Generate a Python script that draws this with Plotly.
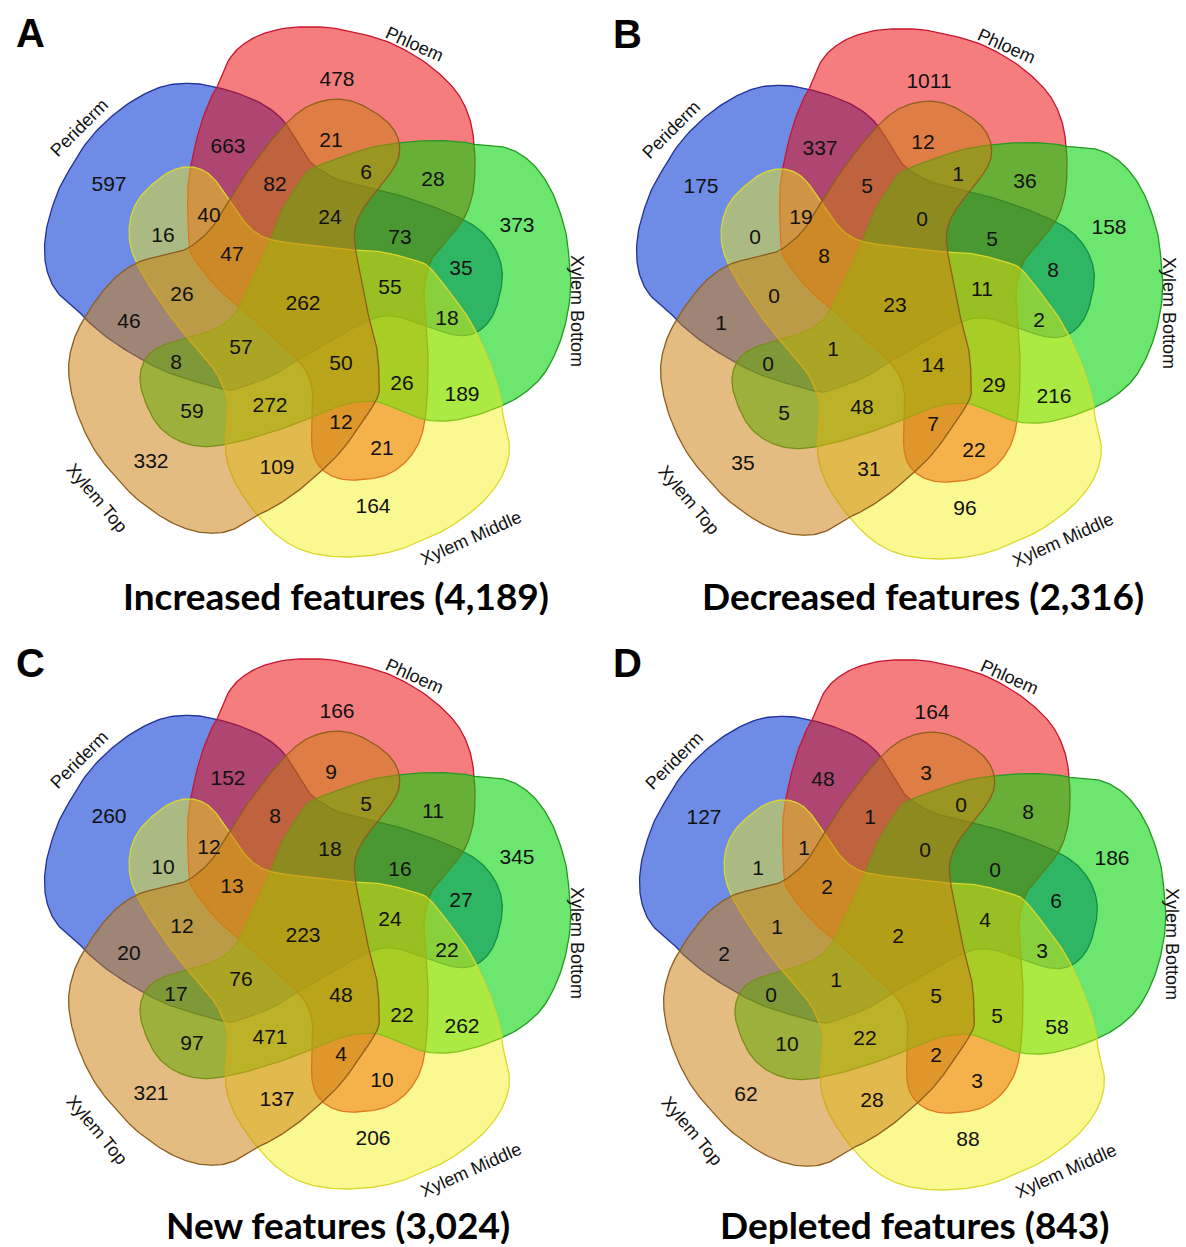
import numpy as np
import plotly.graph_objects as go

# ---------------- data ----------------
SETS = ["Periderm", "Phloem", "Xylem Bottom", "Xylem Middle", "Xylem Top"]
# region membership codes in SETS order
REGIONS = ["10000", "01000", "00100", "00010", "00001",
           "11000", "01001", "01101", "01100", "11001", "11010", "10010",
           "11101", "11100", "11011", "10100", "11110", "10011", "11111",
           "10110", "10001", "10111", "10101", "01111", "01110", "00110",
           "00101", "00111", "01011", "01010", "00011"]
INCREASED = [597, 478, 373, 164, 332, 663, 21, 6, 28, 82, 40, 16, 24, 73, 47, 35,
             55, 26, 262, 18, 46, 57, 8, 50, 26, 189, 59, 272, 12, 21, 109]
DECREASED = [175, 1011, 158, 96, 35, 337, 12, 1, 36, 5, 19, 0, 0, 5, 8, 8,
             11, 0, 23, 2, 1, 1, 0, 14, 29, 216, 5, 48, 7, 22, 31]
NEW = [260, 166, 345, 206, 321, 152, 9, 5, 11, 8, 12, 10, 18, 16, 13, 27,
       24, 12, 223, 22, 20, 76, 17, 48, 22, 262, 97, 471, 4, 10, 137]
DEPLETED = [127, 164, 186, 88, 62, 48, 3, 0, 8, 1, 1, 1, 0, 0, 2, 6,
            4, 1, 2, 3, 2, 1, 0, 5, 5, 58, 10, 22, 2, 3, 28]
PANEL_VALUES = [INCREASED, DECREASED, NEW, DEPLETED]
PANEL_TITLES = ["Increased features (4,189)", "Decreased features (2,316)",
                "New features (3,024)", "Depleted features (843)"]
PANEL_LETTERS = ["A", "B", "C", "D"]

# ---------------- layout / geometry ----------------
W, H = 1186, 1247
CENTER = np.array([305.0, 294.0])
PANEL_OFFSETS = [(0, 0), (592, 2), (0, 632), (595, 633)]
TITLE_POS = [(336, 595), (923, 595), (338, 1224), (914, 1224)]
LETTER_POS = [(30, 33), (627, 34), (30, 663), (627, 663)]

# outline of one set (Phloem orientation), panel-A pixel frame
SHAPE = [(217, 87), (227, 63), (240, 47), (260, 35), (287, 28), (320, 27), (343, 30),
         (383, 40), (417, 57), (443, 77), (460, 97), (470, 120), (474, 143), (475, 170),
         (472, 197), (463, 220), (447, 240), (433, 257), (427, 273), (424, 293),
         (426, 323), (428, 357), (427, 400), (423, 430), (415, 450), (400, 467),
         (380, 477), (350, 480), (330, 475), (317, 463), (312, 447), (312, 423),
         (313, 400), (310, 380), (300, 363), (273, 337), (247, 313), (227, 297),
         (213, 283), (197, 263), (190, 250), (188, 220), (188, 187), (192, 160),
         (200, 127), (210, 100)]
SET_ROT = {"Phloem": 0, "Xylem Bottom": 1, "Xylem Middle": 2, "Xylem Top": 3, "Periderm": 4}
SET_SHIFT = {"Phloem": (0, 0), "Xylem Bottom": (0, -2), "Xylem Middle": (5, 5),
             "Xylem Top": (5, 1), "Periderm": (0, 0)}
FILL = {"Periderm": ((5, 57, 212), 0.58), "Phloem": ((236, 5, 5), 0.52),
        "Xylem Bottom": ((2, 212, 5), 0.58), "Xylem Middle": ((244, 240, 16), 0.46),
        "Xylem Top": ((203, 126, 15), 0.52)}
EDGE = {"Periderm": "#22309c", "Phloem": "#c8142c", "Xylem Bottom": "#229a22",
        "Xylem Middle": "#dcd82a", "Xylem Top": "#8c5e1c"}
SET_LABELS = {"Periderm": (79, 128, -45), "Phloem": (414, 44, 24),
              "Xylem Bottom": (577, 311, 90), "Xylem Middle": (471, 538, -24),
              "Xylem Top": (97, 498, 50)}
LABEL_POS = {
    "10000": (109, 186), "01000": (337, 81), "00100": (517, 227), "00010": (373, 508),
    "00001": (151, 463), "11000": (228, 148), "01001": (331, 142), "01101": (366, 174),
    "01100": (433, 181), "11001": (275, 186), "11010": (209, 217), "10010": (163, 237),
    "11101": (330, 219), "11100": (400, 239), "11011": (232, 256), "10100": (461, 270),
    "11110": (390, 289), "10011": (182, 296), "11111": (303, 305), "10110": (447, 320),
    "10001": (129, 323), "10111": (241, 349), "10101": (176, 364), "01111": (341, 365),
    "01110": (402, 385), "00110": (462, 396), "00101": (192, 413), "00111": (270, 407),
    "01011": (341, 424), "01010": (382, 450), "00011": (277, 469)}
NUM_FONT = dict(family="Liberation Sans, Arial, sans-serif", size=21, color="#111111")
LAB_FONT = dict(family="Liberation Sans, Arial, sans-serif", size=18, color="#111111")


def smooth_closed(pts, n=10):
    P = np.asarray(pts, float)
    m = len(P)
    out = []
    for i in range(m):
        p0, p1, p2, p3 = P[(i - 1) % m], P[i], P[(i + 1) % m], P[(i + 2) % m]
        for t in np.linspace(0, 1, n, endpoint=False):
            t2, t3 = t * t, t * t * t
            out.append(0.5 * (2 * p1 + (-p0 + p2) * t + (2 * p0 - 5 * p1 + 4 * p2 - p3) * t2
                              + (-p0 + 3 * p1 - 3 * p2 + p3) * t3))
    out.append(out[0])
    return np.array(out)


def rotate(pts, k):
    a = np.deg2rad(72 * k)
    c, s = np.cos(a), np.sin(a)
    d = pts - CENTER
    return np.c_[d[:, 0] * c - d[:, 1] * s, d[:, 0] * s + d[:, 1] * c] + CENTER


BASE = smooth_closed(SHAPE, 10)

fig = go.Figure()
annotations = []
for p, (ox, oy) in enumerate(PANEL_OFFSETS):
    for name in SETS:
        sx, sy = SET_SHIFT[name]
        pts = rotate(BASE, SET_ROT[name]) + np.array([ox + sx, oy + sy])
        (r, g, b), a = FILL[name]
        fig.add_trace(go.Scatter(
            x=pts[:, 0], y=pts[:, 1], mode="lines", fill="toself",
            fillcolor=f"rgba({r},{g},{b},{a})",
            line=dict(color=EDGE[name], width=1.3), hoverinfo="skip", showlegend=False))
    vals = PANEL_VALUES[p]
    fig.add_trace(go.Scatter(
        x=[LABEL_POS[c][0] + ox for c in REGIONS],
        y=[LABEL_POS[c][1] + oy for c in REGIONS],
        mode="text", text=[str(v) for v in vals], textposition="middle center",
        textfont=NUM_FONT, hoverinfo="skip", showlegend=False))
    for name, (lx, ly, ang) in SET_LABELS.items():
        annotations.append(dict(x=lx + ox, y=ly + oy, xref="x", yref="y", text=name,
                                showarrow=False, textangle=ang, font=LAB_FONT,
                                xanchor="center", yanchor="middle"))
    tx, ty = TITLE_POS[p]
    annotations.append(dict(x=tx, y=ty, xref="x", yref="y", height=40,
                            text=f"<b>{PANEL_TITLES[p]}</b>", showarrow=False,
                            font=dict(family="Lato, Carlito, sans-serif", size=37, color="#000000"),
                            xanchor="center", yanchor="middle", valign="middle"))
    lx, ly = LETTER_POS[p]
    annotations.append(dict(x=lx, y=ly, xref="x", yref="y",
                            text=f"<b>{PANEL_LETTERS[p]}</b>", showarrow=False,
                            font=dict(family="Liberation Sans, Arial, sans-serif", size=40, color="#000000"),
                            xanchor="center", yanchor="middle"))

fig.update_layout(
    width=W, height=H, margin=dict(l=0, r=0, t=0, b=0),
    paper_bgcolor="white", plot_bgcolor="white",
    xaxis=dict(range=[0, W], visible=False, fixedrange=True),
    yaxis=dict(range=[H, 0], visible=False, fixedrange=True),
    annotations=annotations, showlegend=False)

fig.write_html("out.html", config={"displayModeBar": False, "staticPlot": True},
               post_script="document.body.style.margin='0px';document.body.style.overflow='hidden';")
